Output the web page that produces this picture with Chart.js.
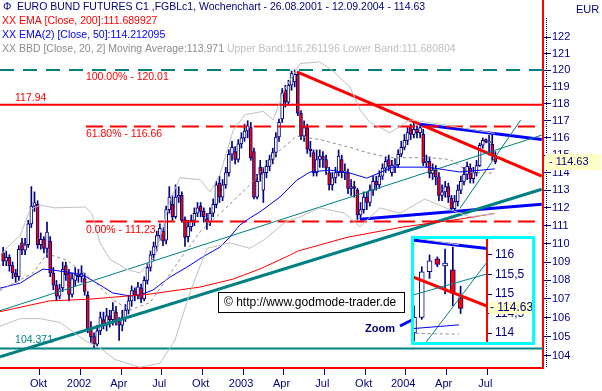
<!DOCTYPE html>
<html>
<head>
<meta charset="utf-8">
<script src="https://cdn.jsdelivr.net/npm/chart.js@4.4.1/dist/chart.umd.min.js"></script>
<style>
html, body { margin: 0; padding: 0; background: #fff; }
#wrap { position: relative; width: 602px; height: 391px; }
canvas { display: block; }
#inset { position: absolute; left: 411px; top: 236px; width: 118px; height: 103px; border: 3px solid #00ffff; background: #fff; }
</style>
</head>
<body>
<div id="wrap">
  <canvas id="main" width="602" height="391"></canvas>
  <div id="inset"><canvas id="zoom" width="118" height="103"></canvas></div>
</div>
<script>
// weekly candles, 26.08.2001 - 12.09.2004 (index = week)
const opens = [
  109.5,109.05,109.25,108.8,108.4,108.2,110.05,109.65,109.95,111.1,
  112.1,112.2,109.95,110.25,109.75,110.15,108.4,107.75,107.15,107.6,
  108.8,108.4,107.25,108.0,108.3,108.2,108.1,107.2,105.4,105.0,
  104.6,105.3,105.9,105.6,106.1,105.9,106.3,105.8,105.6,106.0,
  106.4,106.9,107.45,107.2,107.6,107.0,108.0,108.7,109.4,109.85,
  110.45,110.7,110.2,111.9,112.2,111.5,112.6,112.7,111.35,110.4,
  110.95,111.3,111.7,112.1,111.8,111.4,111.2,111.7,112.2,113.4,
  112.6,113.3,114.0,115.05,115.2,114.75,115.65,116.0,116.4,116.6,
  115.2,112.6,114.3,113.0,114.0,114.35,114.75,115.15,116.05,117.1,
  118.8,118.1,119.1,119.3,119.75,117.45,116.1,116.6,115.35,115.15,
  114.0,114.75,114.95,114.75,114.0,113.3,113.7,114.0,114.75,114.0,
  114.0,113.1,113.2,113.0,111.6,111.9,112.6,112.3,113.0,113.5,
  113.3,113.8,114.25,114.75,114.0,114.4,114.45,115.05,115.45,115.85,
  116.7,116.2,116.5,116.3,116.2,114.55,114.65,113.95,114.15,113.75,
  112.7,112.9,113.2,112.55,111.95,112.35,113.0,113.5,113.9,114.25,
  113.65,114.0,114.4,115.57,115.9,115.72,115.62,114.9
];
const highs = [
  109.8,109.6,109.4,109.0,108.6,109.9,110.3,110.3,111.3,113.2,
  112.9,112.4,110.6,110.4,111.2,110.4,108.7,108.0,107.8,109.0,
  109.0,108.6,108.4,108.7,108.6,108.8,108.4,107.4,105.8,105.2,
  105.6,106.3,106.3,106.5,106.4,106.8,106.6,106.0,106.4,106.7,
  107.2,107.7,107.6,107.9,107.8,108.2,108.9,109.6,110.1,110.7,
  111.1,110.9,112.1,113.2,112.7,113.3,113.2,112.9,111.5,111.3,
  111.6,112.0,112.3,112.3,112.0,111.7,112.0,112.5,113.5,113.8,
  113.6,114.3,115.3,115.8,115.5,115.9,116.3,116.8,117.0,116.9,
  115.4,113.9,114.7,114.3,114.7,115.0,115.4,116.3,117.1,118.9,
  119.1,119.4,119.95,120.01,119.9,117.6,117.0,116.8,115.8,115.3,
  115.3,115.3,115.2,115.0,114.3,114.0,114.3,115.3,115.0,114.5,
  114.2,113.6,113.5,113.1,112.3,112.9,112.9,113.3,113.8,113.8,
  114.1,114.5,114.9,115.0,114.7,114.8,115.3,115.8,116.2,116.6,
  116.8,116.85,116.7,116.8,116.5,115.0,114.9,114.5,114.4,114.0,
  113.3,113.5,113.4,112.7,112.7,113.3,113.8,114.3,114.6,114.5,
  114.3,114.7,115.7,116.0,115.95,116.15,116.2,115.2
];
const lows = [
  108.8,108.8,108.5,108.1,107.9,108.0,109.4,109.4,109.8,110.9,
  111.8,109.75,109.7,109.5,109.25,108.2,107.5,106.9,107.0,107.4,
  108.0,106.9,107.1,107.7,107.9,107.9,107.2,105.2,104.7,104.37,
  104.5,105.1,105.4,105.3,105.5,105.6,105.6,104.8,105.3,105.8,
  106.2,106.6,106.9,107.0,106.8,106.9,107.8,108.5,109.1,109.6,
  110.2,109.9,110.0,111.7,111.3,111.4,112.3,111.2,109.85,110.1,
  110.7,111.0,111.5,111.5,111.2,110.8,111.0,111.5,112.0,112.3,
  112.4,113.1,113.8,114.7,114.5,114.6,115.4,115.8,116.0,114.7,
  112.5,112.5,113.5,112.3,113.7,114.1,114.5,114.9,115.8,116.9,
  117.8,117.9,118.8,119.0,117.3,115.9,115.8,115.1,114.9,113.8,
  113.8,114.3,114.3,113.9,113.0,113.0,113.4,113.8,113.7,113.6,
  112.8,112.7,112.6,111.35,111.4,111.7,111.9,112.1,112.7,113.0,
  113.1,113.6,114.0,114.1,113.8,114.0,114.3,114.9,115.3,115.6,
  115.9,116.0,116.0,116.0,114.4,114.3,113.7,113.6,113.3,112.4,
  112.4,112.6,112.3,111.85,111.8,112.1,112.8,113.3,113.6,113.4,
  113.4,113.8,114.35,115.4,115.7,115.0,114.7,114.5
];
const closes = [
  109.05,109.25,108.8,108.4,108.2,109.7,109.65,109.95,111.1,112.1,
  112.3,109.95,110.25,109.75,110.65,108.4,107.75,107.15,107.55,108.6,
  108.3,107.25,108.1,108.3,108.2,108.4,107.4,105.35,105.0,104.6,
  105.3,106.0,105.6,106.1,105.9,106.4,105.8,105.6,106.0,106.4,
  106.9,107.45,107.2,107.65,107.0,108.0,108.7,109.4,109.85,110.45,
  110.85,110.15,111.9,112.6,111.5,112.6,112.7,111.3,110.35,110.95,
  111.3,111.7,112.0,111.8,111.5,111.2,111.7,112.2,113.3,112.6,
  113.3,114.0,115.05,115.45,114.75,115.65,116.0,116.4,116.7,114.85,
  112.6,113.5,113.9,114.0,114.35,114.75,115.15,116.05,116.9,118.65,
  118.1,119.1,119.8,119.75,117.45,116.1,116.6,115.35,115.25,114.0,
  114.75,114.95,114.75,114.25,113.3,113.7,114.0,114.95,114.0,114.1,
  113.1,113.2,113.1,111.6,111.9,112.6,112.3,113.0,113.5,113.3,
  113.8,114.25,114.65,114.35,114.4,114.45,115.05,115.45,115.85,116.3,
  116.2,116.5,116.3,116.6,114.55,114.65,113.95,114.15,113.75,112.7,
  112.9,113.2,112.6,111.95,112.35,113.0,113.5,113.9,114.35,113.65,
  114.0,114.4,115.57,115.85,115.76,115.79,115.02,114.63
];

// indicators, read at sample weeks
const ema200Weeks = [-1,14.9,27.7,40.5,46.8,54.2,62.8,73.3,81.9,91.5,94,110,127.5,145.7,156.8];
const ema200Values = [106.32,106.9,106.99,107.17,107.26,107.44,107.64,108.07,108.62,109.38,109.6,110.37,110.93,111.37,111.69];
const ema50Weeks = [-1,5.4,9.5,12.7,15.9,20.4,25.5,30.9,35,40.5,43.6,47.8,53.2,58.6,63.7,69.2,72.3,75.5,78.7,81.9,88.3,93.7,97.9,104.2,110.6,116,124.3,135.2,145.7,156.8];
const ema50Values = [107.58,107.85,108.29,108.61,108.56,108.45,108.29,107.75,107.32,107.16,107.21,107.48,108.18,108.72,109.28,109.82,110.37,111.04,111.43,111.77,112.61,113.57,114.03,114.14,113.97,113.68,114.31,114.31,114.03,114.21];
const bbUpperWeeks = [-1,2.2,5.4,8.6,11.8,16.5,26.1,28.3,30.9,34.1,39.5,43.6,48.4,53.2,56.4,62.8,66,69.2,73.3,77.1,82.9,86.1,89.9,94.7,101,105.2,110.6,114,117,123.4,129.7,139.3,145.7,156.8];
const bbUpperValues = [109.35,109.95,110.45,111.9,112.15,112.0,112.05,111.7,110.05,109.15,108.6,108.4,109.25,112.4,113.7,113.6,112.9,113.9,116.4,117.35,117.55,117.05,118.9,120.4,120.5,119.95,119.0,117.6,116.9,116.3,117.05,116.8,116.6,116.26];
const bbMidWeeks = [-1,9.5,14,20.4,28.7,35,40.5,46.8,50,56.4,62.8,71.4,78.7,86.1,93.7,101,110.6,116,123.4,136.1,142.5,148.9,156.8];
const bbMidValues = [107.45,108.4,109.45,109.1,108.0,106.95,106.4,106.8,107.55,109.15,110.65,112.05,113.3,114.95,116.1,115.9,115.45,115.15,114.85,114.85,114.75,114.0,113.97];
const bbLowerWeeks = [-1,5.4,11.8,18.1,26.1,30.9,35.7,43.6,50,54.8,59.6,65,72.3,78.7,83.5,89.9,94.7,101,109,113.8,120.2,126.6,134.5,142.5,148.9,156.8];
const bbLowerValues = [105.55,105.95,105.95,105.75,104.8,104.4,103.8,103.4,103.6,104.8,107.35,109.75,110.05,109.75,110.25,111.2,111.5,112.0,111.7,110.95,112.0,111.7,112.5,111.9,111.5,111.68];

// drawn trend lines (two end points each)
const redTrendWeeks = [93.7, 171.8], redTrendValues = [119.9, 113.8];
const blueTopWeeks = [132.9, 171.8], blueTopValues = [116.8, 115.9];
const blueLowWeeks = [113.8, 171.8], blueLowValues = [111.36, 112.2];
const tealLongWeeks = [-1, 171.8], tealLongValues = [103.94, 113.05];
const tealMidWeeks = [-1, 171.8], tealMidValues = [106.37, 116.16];
const tealSteepWeeks = [145.7, 165.1], tealSteepValues = [111.97, 117.05];

// horizontal levels
const fibTop = 120.01, fib618 = 116.66, fibZero = 111.23;
const resistance = 117.94, support = 104.371;
const lastPrice = 114.63;

// axes
const quarterTicks = [5.15,18.3,31.1,44.1,57.1,70.0,83.1,96.0,109.0,122.0,134.8,147.9];
const quarterLabelWeeks = [11.3,24.2,36.9,49.8,63.0,75.9,88.8,101.8,115.0,127.6,140.5,153.8];
const quarterLabels = ['Okt','2002','Apr','Jul','Okt','2003','Apr','Jul','Okt','2004','Apr','Jul'];
const priceTicks = [104,105,106,107,108,109,110,111,112,113,114,115,116,117,118,119,120,121,122];
const zoomTicks = [114, 114.5, 115, 115.5, 116];

const NAVY = '#000080', RED = '#ff0000', BLUE = '#0000ff', TEAL = '#008080';
const FONT = '"Liberation Sans", Arial, sans-serif';
Chart.defaults.font.family = FONT;
Chart.defaults.font.size = 11;
Chart.defaults.color = NAVY;

const weekIdx = closes.map((_, i) => i);

function candles(bodyWidth) {
  return [
    { type: 'bar', data: weekIdx.map(i => ({ x: i, y: [lows[i], highs[i]] })),
      backgroundColor: NAVY, barThickness: 1, grouped: false, order: 11, xAxisID: 'x', yAxisID: 'y' },
    { type: 'bar', data: weekIdx.map(i => ({ x: i, y: [opens[i], closes[i]] })),
      backgroundColor: c => closes[c.dataIndex] >= opens[c.dataIndex] ? '#ffffff' : RED,
      borderColor: NAVY, borderWidth: 1, borderSkipped: false,
      barThickness: bodyWidth, grouped: false, order: 10, xAxisID: 'x', yAxisID: 'y' }
  ];
}
function line(ws, vs, color, width, dash) {
  return { type: 'line', data: ws.map((w, k) => ({ x: w, y: vs[k] })),
    borderColor: color, borderWidth: width, borderDash: dash || [],
    pointRadius: 0, tension: 0, fill: false, order: 1, xAxisID: 'x', yAxisID: 'y' };
}
function hline(from, v, color, width, dash) {
  return line([from, 172.2], [v, v], color, width, dash);
}
// keep the plot area edge to edge: no label padding added by the layout
function noPad(s) {
  s.paddingTop = 0; s.paddingBottom = 0; s.paddingLeft = 0; s.paddingRight = 0;
}

const mainSets = [
  ...candles(3),
  line(bbUpperWeeks, bbUpperValues, '#c0c0c0', 1),
  line(bbLowerWeeks, bbLowerValues, '#c0c0c0', 1),
  line(bbMidWeeks, bbMidValues, '#8c8c8c', 1, [3, 3]),
  line(ema200Weeks, ema200Values, RED, 1),
  line(ema50Weeks, ema50Values, BLUE, 1),
  hline(-1, fibTop, TEAL, 2, [14, 9]),
  hline(-1, resistance, RED, 2),
  hline(26.4, fib618, RED, 2, [17, 7]),
  hline(26.4, fibZero, RED, 2, [17, 7]),
  hline(-1, support, TEAL, 2),
  line(tealMidWeeks, tealMidValues, TEAL, 1),
  line(tealSteepWeeks, tealSteepValues, TEAL, 1),
  line(tealLongWeeks, tealLongValues, TEAL, 3),
  line(blueTopWeeks, blueTopValues, BLUE, 3),
  line(blueLowWeeks, blueLowValues, BLUE, 3),
  line(redTrendWeeks, redTrendValues, RED, 3)
];

const mainDecor = {
  id: 'mainDecor',
  beforeDraw(chart) {
    const c = chart.ctx;
    c.save(); c.fillStyle = '#fff'; c.fillRect(0, 0, chart.width, chart.height); c.restore();
  },
  afterDraw(chart) {
    const c = chart.ctx, x = chart.scales.x, y = chart.scales.y;
    c.save();
    c.font = '10.5px ' + FONT;
    c.textBaseline = 'middle';
    c.textAlign = 'left';
    // header
    c.fillStyle = NAVY;
    c.fillText('\u03A6', 3, 7);
    c.fillText('EURO BUND FUTURES C1 ,FGBLc1, Wochenchart - 26.08.2001 - 12.09.2004 - 114.63', 17, 7);
    c.fillStyle = RED; c.fillText('XX EMA [Close, 200]:111.689927', 2, 21);
    c.fillStyle = BLUE; c.fillText('XX EMA(2) [Close, 50]:114.212095', 2, 35);
    const t4 = 'XX BBD [Close, 20, 2] Moving Average:113.971';
    c.fillStyle = '#8c8c8c'; c.fillText(t4, 2, 49);
    c.fillStyle = '#c0c0c0'; c.fillText(' Upper Band:116.261196 Lower Band:111.680804', 2 + c.measureText(t4).width, 49);
    c.font = '11px ' + FONT;
    c.fillStyle = NAVY; c.fillText('EUR', 576, 10);
    // level labels
    c.font = '10.5px ' + FONT;
    const lx = x.getPixelForValue(26.4), sx = x.getPixelForValue(3.8);
    c.fillStyle = RED;
    c.fillText('100.00% - ' + fibTop.toFixed(2), lx, y.getPixelForValue(fibTop) + 7);
    c.fillText(resistance.toFixed(2), sx, y.getPixelForValue(resistance) - 7);
    c.fillText('61.80% - ' + fib618.toFixed(2), lx, y.getPixelForValue(fib618) + 8);
    c.fillText('0.00% - ' + fibZero.toFixed(2), lx, y.getPixelForValue(fibZero) + 8);
    c.fillStyle = TEAL;
    c.fillText(String(support), sx, y.getPixelForValue(support) - 8);
    // dotted axis line
    c.fillStyle = NAVY;
    for (let yy = 18; yy < chart.chartArea.bottom; yy += 2) c.fillRect(546, yy, 1, 1);
    // last price box
    c.font = '11px ' + FONT;
    const py = Math.round(y.getPixelForValue(lastPrice));
    c.fillStyle = '#ffffc8'; c.fillRect(545, py - 8, 56, 16);
    c.fillStyle = NAVY; c.fillText('- ' + lastPrice.toFixed(2), 549, py);
    // copyright box
    c.fillStyle = '#fff'; c.fillRect(218.5, 292.5, 186, 20);
    c.strokeStyle = '#000'; c.lineWidth = 1; c.strokeRect(218.5, 292.5, 186, 20);
    c.fillStyle = '#000'; c.font = '12px ' + FONT;
    c.fillText('\u00A9 http://www.godmode-trader.de', 224, 303);
    // zoom pointer
    c.font = 'bold 11px ' + FONT; c.fillStyle = NAVY;
    c.fillText('Zoom', 365, 329);
    c.strokeStyle = BLUE; c.lineWidth = 3;
    c.beginPath(); c.moveTo(400, 326); c.lineTo(412, 320); c.stroke();
    c.restore();
  }
};

new Chart(document.getElementById('main'), {
  type: 'bar',
  data: { datasets: mainSets },
  options: {
    responsive: false, animation: false, devicePixelRatio: 1, events: [],
    layout: { padding: 0 },
    plugins: { legend: { display: false }, tooltip: { enabled: false } },
    scales: {
      x: { type: 'linear', position: 'bottom', min: -1, max: 172.2, offset: false, weight: 0,
        afterBuildTicks: s => { s.ticks = quarterTicks.map(v => ({ value: v })); },
        afterFit: s => { s.height = 9; noPad(s); },
        ticks: { display: false },
        grid: { drawOnChartArea: false, drawTicks: true, tickLength: 7, tickColor: NAVY },
        border: { color: RED, width: 2 } },
      xl: { type: 'linear', position: 'bottom', min: -1, max: 172.2, offset: false, weight: 1,
        afterBuildTicks: s => { s.ticks = quarterLabelWeeks.map(v => ({ value: v })); },
        afterFit: s => { s.height = 14; noPad(s); },
        ticks: { autoSkip: false, maxRotation: 0, padding: 0, color: NAVY, callback: (v, i) => quarterLabels[i] },
        grid: { display: false, drawTicks: false },
        border: { display: false } },
      y: { type: 'logarithmic', position: 'right', min: 103.36, max: 124.3,
        afterBuildTicks: s => { s.ticks = priceTicks.map(v => ({ value: v })); },
        afterFit: s => { s.width = 59; noPad(s); },
        ticks: { color: NAVY, padding: 1, callback: v => String(v) },
        grid: { drawOnChartArea: false, tickLength: 8, tickColor: NAVY },
        border: { color: RED, width: 2 } }
    }
  },
  plugins: [mainDecor]
});

// inset: last weeks enlarged
const zoomSets = [
  ...candles(5),
  line(bbUpperWeeks, bbUpperValues, '#c0c0c0', 1),
  line(bbMidWeeks, bbMidValues, '#8c8c8c', 1, [3, 3]),
  line(ema50Weeks, ema50Values, BLUE, 1),
  line(tealMidWeeks, tealMidValues, TEAL, 1),
  line(tealSteepWeeks, tealSteepValues, TEAL, 1),
  line(blueTopWeeks, blueTopValues, BLUE, 3),
  line(redTrendWeeks, redTrendValues, RED, 3)
];

const zoomDecor = {
  id: 'zoomDecor',
  beforeDraw(chart) {
    const c = chart.ctx;
    c.save(); c.fillStyle = '#fff'; c.fillRect(0, 0, chart.width, chart.height); c.restore();
  },
  afterDraw(chart) {
    const c = chart.ctx, y = chart.scales.y;
    const py = Math.round(y.getPixelForValue(lastPrice));
    c.save();
    c.fillStyle = '#ffffc8'; c.fillRect(75, py - 6, 43, 12);
    c.fillStyle = NAVY; c.font = '12px ' + FONT; c.textBaseline = 'middle';
    c.fillText('- ' + lastPrice.toFixed(2), 76, py);
    c.restore();
  }
};

new Chart(document.getElementById('zoom'), {
  type: 'bar',
  data: { datasets: zoomSets },
  options: {
    responsive: false, animation: false, devicePixelRatio: 1, events: [],
    layout: { padding: 0 },
    plugins: { legend: { display: false }, tooltip: { enabled: false } },
    scales: {
      x: { type: 'linear', display: false, min: 151.0, max: 160.4, offset: false },
      y: { type: 'linear', position: 'right', min: 113.77, max: 116.41,
        afterBuildTicks: s => { s.ticks = zoomTicks.map(v => ({ value: v })); },
        afterFit: s => { s.width = 45; noPad(s); },
        ticks: { color: NAVY, padding: 3, font: { size: 12 }, callback: v => String(v).replace('.', ',') },
        grid: { drawOnChartArea: false, tickLength: 5, tickColor: NAVY },
        border: { color: RED, width: 2 } }
    }
  },
  plugins: [zoomDecor]
});
</script>
</body>
</html>
